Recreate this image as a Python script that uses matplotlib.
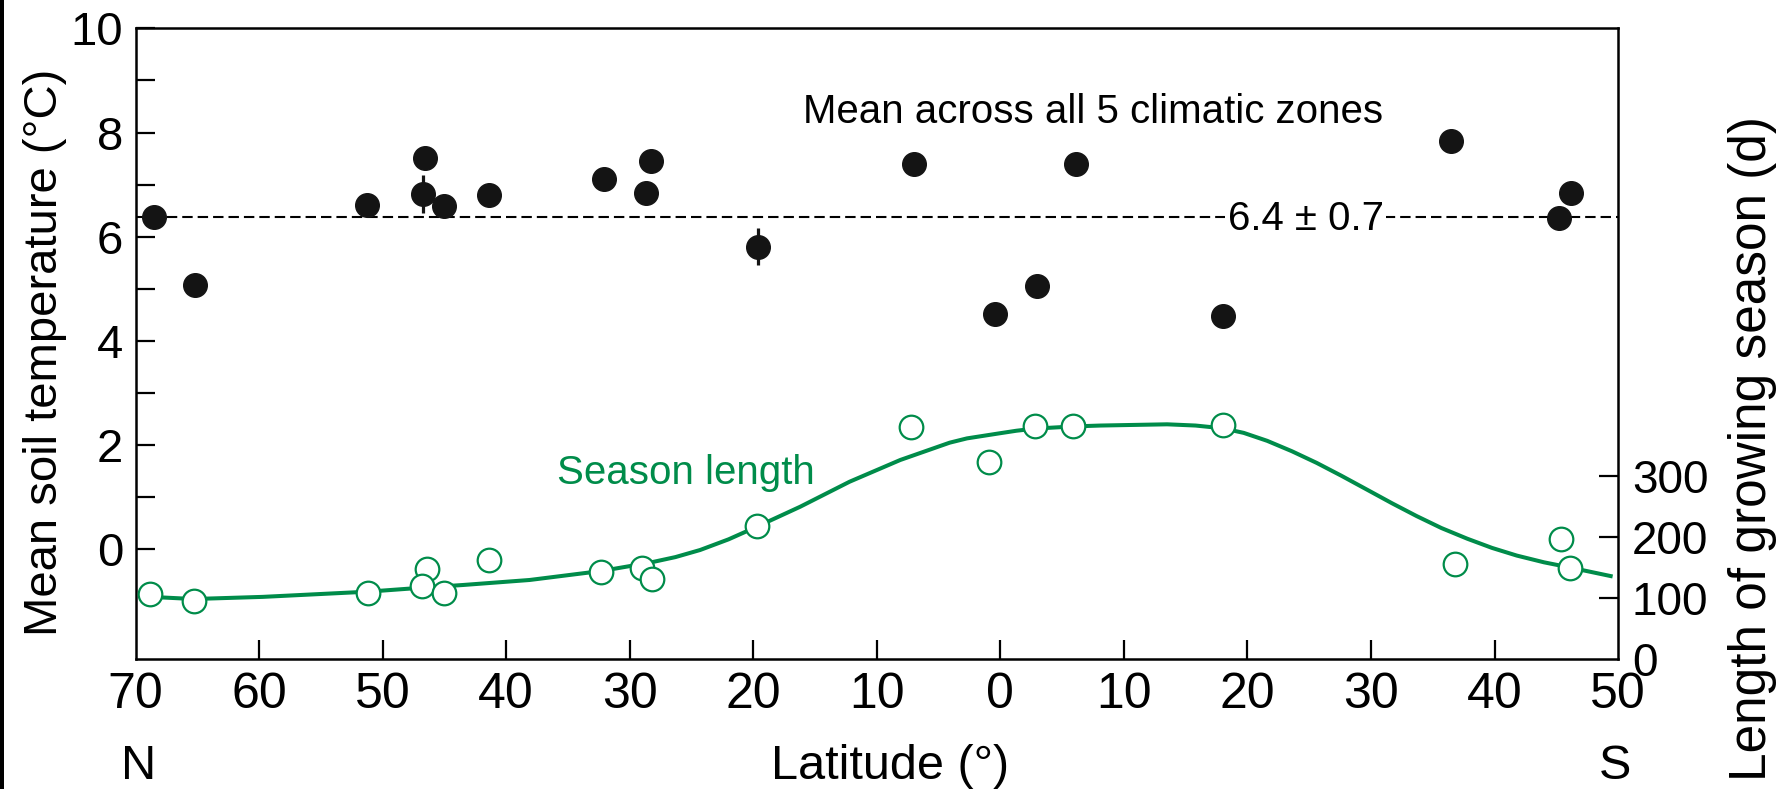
# Mean soil temperature and growing season length versus latitude
import matplotlib
matplotlib.use("Agg")
import matplotlib.pyplot as plt
from matplotlib.patches import Rectangle

plt.rcParams['font.family'] = ['Liberation Sans', 'DejaVu Sans']

# soil temperature per site (latitude: N positive, S negative)
temp_lat = [68.5, 65.2, 51.3, 46.6, 46.7, 45.0, 41.4, 32.1, 28.7, 28.3,
            19.6, 7.0, 0.4, -3.0, -6.1, -18.0, -36.5, -45.2, -46.2]
temp_c = [6.38, 5.08, 6.60, 7.51, 6.82, 6.58, 6.79, 7.11, 6.83, 7.46,
          5.81, 7.39, 4.51, 5.05, 7.39, 4.48, 7.84, 6.36, 6.83]
err_lat = [46.7, 19.6]
err_temp = [6.82, 5.81]
err_size = [0.36, 0.36]
mean_temp = 6.37

# growing season length per site (days)
season_lat = [68.8, 65.3, 51.2, 46.4, 46.8, 45.0, 41.4, 32.3, 29.0, 28.2,
              19.7, 7.2, 0.9, -2.8, -5.9, -18.0, -36.8, -45.4, -46.1]
season_days = [107, 96, 109, 147, 120, 108, 163, 143, 150, 132,
               218, 379, 322, 381, 382, 383, 156, 196, 150]

# fitted season length curve
curve_lat = [68.8, 65.3, 59.7, 51.2, 46.8, 43.5, 38.1, 32.3, 28.4, 26.3,
             24.3, 22.0, 19.7, 16.2, 12.2, 8.1, 4.1, 2.7, 0.0, -1.3,
             -2.8, -5.9, -8.1, -13.5, -15.8, -18.0, -19.7, -21.6, -23.6,
             -25.6, -27.6, -29.7, -31.7, -33.7, -35.7, -37.8, -39.8, -41.8,
             -44.0, -46.1, -49.4]
curve_days = [102, 98.5, 102, 110.5, 117, 121.4, 129.6, 144.3, 157.8, 167,
              178.6, 196, 216.7, 249.3, 290.2, 325.7, 354, 361, 369.5, 373.5,
              377, 380.5, 382, 384, 382, 377.5, 370, 357, 340,
              321, 300, 277, 255, 234, 214.5, 197, 182, 169.5,
              158.5, 150, 136]

lat_ticks = [70, 60, 50, 40, 30, 20, 10, 0, -10, -20, -30, -40, -50]
day_ticks = [0, 100, 200, 300]

green = '#008C4A'
dark = '#141414'

fig = plt.figure(figsize=(17.83, 7.89), dpi=100)
ax = fig.add_axes([0.076, 0.1644, 0.8315, 0.7996])

ax.set_xlim(70, -50)
ax.set_ylim(-2.12, 10)
ax.set_xticks(lat_ticks)
ax.set_xticklabels([str(abs(t)) for t in lat_ticks])
ax.set_yticks([0, 2, 4, 6, 8, 10])
ax.set_yticks([1, 3, 5, 7, 9], minor=True)
ax.tick_params(axis='both', which='both', direction='in', length=14,
               width=1.6)
ax.tick_params(axis='x', pad=9, labelsize=36)
ax.tick_params(axis='y', pad=9, labelsize=34)
for s in ax.spines.values():
    s.set_linewidth(1.8)
xt = ax.xaxis.get_major_ticks()
xt[0].tick1line.set_visible(False)
xt[-1].tick1line.set_visible(False)

# mean line and soil temperature points
ax.axhline(mean_temp, color='black', lw=1.5, dashes=(5, 2.4), zorder=1)
ax.errorbar(err_lat, err_temp, yerr=err_size, fmt='none', ecolor=dark,
            elinewidth=2.3, capsize=0, zorder=2)
ax.plot(temp_lat, temp_c, 'o', ms=17, color=dark, mec=dark, zorder=3)

ax.text(16.0, 8.18, 'Mean across all 5 climatic zones', fontsize=29,
        ha='left', va='baseline')
ax.text(-18.4, 6.13, '6.4 ± 0.7', fontsize=29, ha='left', va='baseline',
        bbox=dict(facecolor='white', edgecolor='none', pad=2), zorder=4)
ax.text(35.9, 1.25, 'Season length', fontsize=29, color=green,
        ha='left', va='baseline')

# growing season on the right axis
ax2 = ax.twinx()
ax2.set_ylim(0, 1031)
ax2.set_yticks(day_ticks)
ax2.tick_params(axis='y', direction='in', length=14, width=1.6,
                labelsize=33, pad=10)
for s in ax2.spines.values():
    s.set_visible(False)
ax2.yaxis.get_major_ticks()[0].tick2line.set_visible(False)

ax2.plot(curve_lat, curve_days, color=green, lw=2.9, zorder=2)
ax2.plot(season_lat, season_days, 'o', ms=17, mfc='white', mec=green,
         mew=1.6, zorder=3)

# axis titles
fig.text(0.025, 0.554, 'Mean soil temperature (°C)', rotation=90,
         fontsize=34, ha='center', va='center')
fig.text(0.983, 0.431, 'Length of growing season (d)', rotation=90,
         fontsize=37, ha='center', va='center')
fig.text(0.4993, 0.013, 'Latitude (°)', fontsize=35, ha='center', va='baseline')
fig.text(0.0778, 0.013, 'N', fontsize=35, ha='center', va='baseline')
fig.text(0.9055, 0.013, 'S', fontsize=35, ha='center', va='baseline')

# dark edge at the left of the original image
fig.add_artist(Rectangle((0, 0), 4 / 1783, 1, transform=fig.transFigure,
                         facecolor='black', edgecolor='none'))

fig.savefig('out.png', dpi=100)
